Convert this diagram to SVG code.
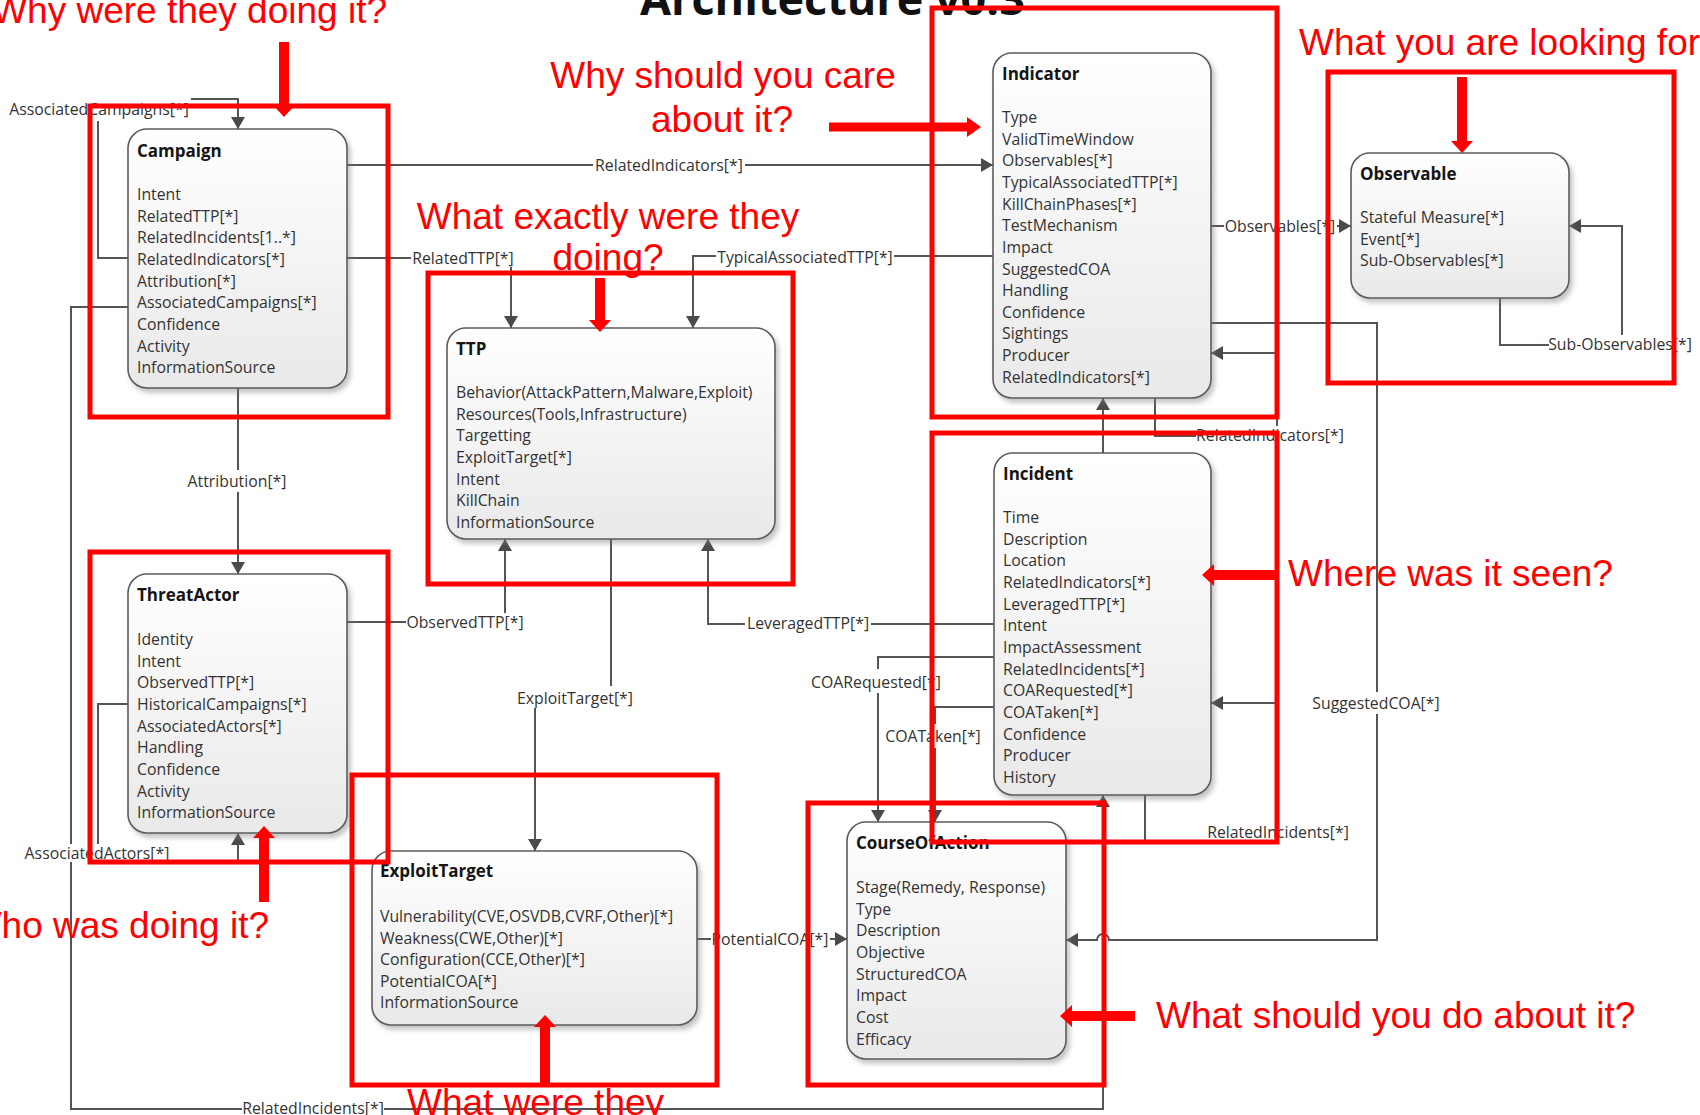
<svg xmlns="http://www.w3.org/2000/svg" width="1700" height="1115" viewBox="0 0 1700 1115">
<defs>
  <linearGradient id="nodeFill" x1="0" y1="0" x2="0" y2="1">
    <stop offset="0" stop-color="#ffffff"/>
    <stop offset="1" stop-color="#e9e9e9"/>
  </linearGradient>
  <filter id="shadow" x="-10%" y="-10%" width="125%" height="125%">
    <feDropShadow dx="3" dy="4" stdDeviation="2.5" flood-color="#7a7a7a" flood-opacity="0.45"/>
  </filter>
  <marker id="arr" viewBox="0 0 12 14" refX="12" refY="7" markerWidth="12" markerHeight="14" markerUnits="userSpaceOnUse" orient="auto">
    <path d="M0,0 L12,7 L0,14 Z" fill="#4a4a4a"/>
  </marker>
  <style>
    .node rect.box { fill: url(#nodeFill); stroke: #5c5c5c; stroke-width: 1.6; filter: url(#shadow); }
    .ttl { font-family: "Open Sans", "Noto Sans", sans-serif; font-weight: bold; font-size: 17px; fill: #151515; }
    .att { font-family: "Open Sans", "Noto Sans", sans-serif; font-size: 15.8px; fill: #333333; }
    .con path { fill: none; stroke: #555555; stroke-width: 2; }
    .con path.a { marker-end: url(#arr); }
    .lbl { font-family: "Open Sans", "Noto Sans", sans-serif; font-size: 15.8px; fill: #333333; text-anchor: middle; }
    .lbg { fill: #ffffff; }
    .rbox { fill: none; stroke: #ff0000; stroke-width: 5; }
    .rarr { fill: #ff0000; }
    .rtxt { font-family: "Liberation Sans", Arial, sans-serif; font-size: 37px; fill: #ff0000; }
    .title { font-family: "Open Sans", "Noto Sans", sans-serif; font-weight: bold; font-size: 45px; fill: #111111; }
  </style>
</defs>
<rect x="0" y="0" width="1700" height="1115" fill="#ffffff"/>

<text class="title" x="640" y="15">Architecture v0.3</text>

<g id="connectors" class="con">
  <path class="a" d="M128,258 H98 V99 H238 V129"/>
  <path class="a" d="M347,165 H993"/>
  <path class="a" d="M347,258 H511 V328"/>
  <path class="a" d="M993,256 H693 V328"/>
  <path class="a" d="M238,388 V574"/>
  <path class="a" d="M128,307 H71 V1109 H1103 V795"/>
  <path class="a" d="M1211,226 H1351"/>
  <path class="a" d="M1500,298 V345 H1622 V226 H1569"/>
  <path class="a" d="M1155,398 V436 H1277 V353 H1211"/>
  <path class="a" d="M1103,453 V398"/>
  <path class="a" d="M1211,323 H1377 V940 H1109 a6,6 0 0 0 -12,0 H1066"/>
  <path class="a" d="M1145,795 V841 H1277 V703 H1211"/>
  <path class="a" d="M994,624 H708 V539"/>
  <path class="a" d="M347,622 H505 V539"/>
  <path class="a" d="M611,539 V698 H535 V851"/>
  <path class="a" d="M697,939 H847"/>
  <path class="a" d="M994,657 H878 V822"/>
  <path class="a" d="M994,707 H935 V822"/>
  <path class="a" d="M128,704 H98 V861 H238 V833"/>

  <g id="connector-labels">
    <rect class="lbg" x="8" y="97" width="183" height="24"/>
    <text class="lbl" x="99" y="114.5">AssociatedCampaigns[*]</text>
    <rect class="lbg" x="593" y="156" width="152" height="18"/>
    <text class="lbl" x="669" y="170.5">RelatedIndicators[*]</text>
    <rect class="lbg" x="411" y="249" width="104" height="18"/>
    <text class="lbl" x="463" y="263.5">RelatedTTP[*]</text>
    <rect class="lbg" x="716" y="248" width="178" height="18"/>
    <text class="lbl" x="805" y="262.5">TypicalAssociatedTTP[*]</text>
    <rect class="lbg" x="185" y="470" width="104" height="22"/>
    <text class="lbl" x="237" y="487">Attribution[*]</text>
    <rect class="lbg" x="242" y="1099" width="142" height="18"/>
    <text class="lbl" x="313" y="1113.5">RelatedIncidents[*]</text>
    <rect class="lbg" x="1224" y="217" width="113" height="18"/>
    <text class="lbl" x="1280" y="231.5">Observables[*]</text>
    <rect class="lbg" x="1549" y="335" width="143" height="18"/>
    <text class="lbl" x="1620" y="349.5">Sub-Observables[*]</text>
    <rect class="lbg" x="1196" y="426" width="148" height="18"/>
    <text class="lbl" x="1270" y="440.5">RelatedIndicators[*]</text>
    <rect class="lbg" x="1311" y="692" width="130" height="22"/>
    <text class="lbl" x="1376" y="708.5">SuggestedCOA[*]</text>
    <rect class="lbg" x="1207" y="823" width="142" height="18"/>
    <text class="lbl" x="1278" y="837.5">RelatedIncidents[*]</text>
    <rect class="lbg" x="745" y="614" width="126" height="18"/>
    <text class="lbl" x="808" y="628.5">LeveragedTTP[*]</text>
    <rect class="lbg" x="406" y="613" width="118" height="18"/>
    <text class="lbl" x="465" y="627.5">ObservedTTP[*]</text>
    <rect class="lbg" x="516" y="686" width="118" height="22"/>
    <text class="lbl" x="575" y="703.5">ExploitTarget[*]</text>
    <rect class="lbg" x="711" y="930" width="119" height="18"/>
    <text class="lbl" x="770" y="944.5">PotentialCOA[*]</text>
    <rect class="lbg" x="811" y="669" width="131" height="24"/>
    <text class="lbl" x="876" y="687.5">COARequested[*]</text>
    <rect class="lbg" x="885" y="724" width="96" height="24"/>
    <text class="lbl" x="933" y="741.5">COATaken[*]</text>
    <rect class="lbg" x="24" y="844" width="147" height="18"/>
    <text class="lbl" x="97" y="858.5">AssociatedActors[*]</text>
  </g>
</g>

<g id="node-campaign" class="node">
  <rect class="box" x="128" y="129" width="219" height="259" rx="19"/>
  <text class="ttl" x="137" y="157">Campaign</text>
  <text class="att" x="137" y="200">
    <tspan x="137">Intent</tspan>
    <tspan x="137" dy="21.65">RelatedTTP[*]</tspan>
    <tspan x="137" dy="21.65">RelatedIncidents[1..*]</tspan>
    <tspan x="137" dy="21.65">RelatedIndicators[*]</tspan>
    <tspan x="137" dy="21.65">Attribution[*]</tspan>
    <tspan x="137" dy="21.65">AssociatedCampaigns[*]</tspan>
    <tspan x="137" dy="21.65">Confidence</tspan>
    <tspan x="137" dy="21.65">Activity</tspan>
    <tspan x="137" dy="21.65">InformationSource</tspan>
  </text>
</g>

<g id="node-ttp" class="node">
  <rect class="box" x="447" y="328" width="328" height="211" rx="19"/>
  <text class="ttl" x="456" y="355">TTP</text>
  <text class="att" x="456" y="398">
    <tspan x="456">Behavior(AttackPattern,Malware,Exploit)</tspan>
    <tspan x="456" dy="21.65">Resources(Tools,Infrastructure)</tspan>
    <tspan x="456" dy="21.65">Targetting</tspan>
    <tspan x="456" dy="21.65">ExploitTarget[*]</tspan>
    <tspan x="456" dy="21.65">Intent</tspan>
    <tspan x="456" dy="21.65">KillChain</tspan>
    <tspan x="456" dy="21.65">InformationSource</tspan>
  </text>
</g>

<g id="node-indicator" class="node">
  <rect class="box" x="993" y="53" width="218" height="345" rx="19"/>
  <text class="ttl" x="1002" y="80">Indicator</text>
  <text class="att" x="1002" y="123">
    <tspan x="1002">Type</tspan>
    <tspan x="1002" dy="21.65">ValidTimeWindow</tspan>
    <tspan x="1002" dy="21.65">Observables[*]</tspan>
    <tspan x="1002" dy="21.65">TypicalAssociatedTTP[*]</tspan>
    <tspan x="1002" dy="21.65">KillChainPhases[*]</tspan>
    <tspan x="1002" dy="21.65">TestMechanism</tspan>
    <tspan x="1002" dy="21.65">Impact</tspan>
    <tspan x="1002" dy="21.65">SuggestedCOA</tspan>
    <tspan x="1002" dy="21.65">Handling</tspan>
    <tspan x="1002" dy="21.65">Confidence</tspan>
    <tspan x="1002" dy="21.65">Sightings</tspan>
    <tspan x="1002" dy="21.65">Producer</tspan>
    <tspan x="1002" dy="21.65">RelatedIndicators[*]</tspan>
  </text>
</g>

<g id="node-observable" class="node">
  <rect class="box" x="1351" y="153" width="218" height="145" rx="19"/>
  <text class="ttl" x="1360" y="180">Observable</text>
  <text class="att" x="1360" y="223">
    <tspan x="1360">Stateful Measure[*]</tspan>
    <tspan x="1360" dy="21.65">Event[*]</tspan>
    <tspan x="1360" dy="21.65">Sub-Observables[*]</tspan>
  </text>
</g>

<g id="node-incident" class="node">
  <rect class="box" x="994" y="453" width="217" height="342" rx="19"/>
  <text class="ttl" x="1003" y="480">Incident</text>
  <text class="att" x="1003" y="523">
    <tspan x="1003">Time</tspan>
    <tspan x="1003" dy="21.65">Description</tspan>
    <tspan x="1003" dy="21.65">Location</tspan>
    <tspan x="1003" dy="21.65">RelatedIndicators[*]</tspan>
    <tspan x="1003" dy="21.65">LeveragedTTP[*]</tspan>
    <tspan x="1003" dy="21.65">Intent</tspan>
    <tspan x="1003" dy="21.65">ImpactAssessment</tspan>
    <tspan x="1003" dy="21.65">RelatedIncidents[*]</tspan>
    <tspan x="1003" dy="21.65">COARequested[*]</tspan>
    <tspan x="1003" dy="21.65">COATaken[*]</tspan>
    <tspan x="1003" dy="21.65">Confidence</tspan>
    <tspan x="1003" dy="21.65">Producer</tspan>
    <tspan x="1003" dy="21.65">History</tspan>
  </text>
</g>

<g id="node-threatactor" class="node">
  <rect class="box" x="128" y="574" width="219" height="259" rx="19"/>
  <text class="ttl" x="137" y="601">ThreatActor</text>
  <text class="att" x="137" y="645">
    <tspan x="137">Identity</tspan>
    <tspan x="137" dy="21.65">Intent</tspan>
    <tspan x="137" dy="21.65">ObservedTTP[*]</tspan>
    <tspan x="137" dy="21.65">HistoricalCampaigns[*]</tspan>
    <tspan x="137" dy="21.65">AssociatedActors[*]</tspan>
    <tspan x="137" dy="21.65">Handling</tspan>
    <tspan x="137" dy="21.65">Confidence</tspan>
    <tspan x="137" dy="21.65">Activity</tspan>
    <tspan x="137" dy="21.65">InformationSource</tspan>
  </text>
</g>

<g id="node-exploittarget" class="node">
  <rect class="box" x="372" y="851" width="325" height="174" rx="19"/>
  <text class="ttl" x="380" y="877">ExploitTarget</text>
  <text class="att" x="380" y="922">
    <tspan x="380">Vulnerability(CVE,OSVDB,CVRF,Other)[*]</tspan>
    <tspan x="380" dy="21.5">Weakness(CWE,Other)[*]</tspan>
    <tspan x="380" dy="21.5">Configuration(CCE,Other)[*]</tspan>
    <tspan x="380" dy="21.5">PotentialCOA[*]</tspan>
    <tspan x="380" dy="21.5">InformationSource</tspan>
  </text>
</g>

<g id="node-courseofaction" class="node">
  <rect class="box" x="847" y="822" width="219" height="237" rx="19"/>
  <text class="ttl" x="856" y="849">CourseOfAction</text>
  <text class="att" x="856" y="893">
    <tspan x="856">Stage(Remedy, Response)</tspan>
    <tspan x="856" dy="21.65">Type</tspan>
    <tspan x="856" dy="21.65">Description</tspan>
    <tspan x="856" dy="21.65">Objective</tspan>
    <tspan x="856" dy="21.65">StructuredCOA</tspan>
    <tspan x="856" dy="21.65">Impact</tspan>
    <tspan x="856" dy="21.65">Cost</tspan>
    <tspan x="856" dy="21.65">Efficacy</tspan>
  </text>
</g>

<g id="annotations">
  <rect class="rbox" x="90" y="106" width="298" height="311"/>
  <rect class="rbox" x="428" y="273" width="365" height="311"/>
  <rect class="rbox" x="932" y="8" width="345" height="409"/>
  <rect class="rbox" x="1328" y="72" width="346" height="311"/>
  <rect class="rbox" x="932" y="433" width="345" height="409"/>
  <rect class="rbox" x="90" y="552" width="298" height="310"/>
  <rect class="rbox" x="352" y="775" width="365" height="310"/>
  <rect class="rbox" x="808" y="803" width="296" height="282"/>

  <path class="rarr" d="M279,42 H289 V105 H295 L284,117 L273,105 H279 Z"/>
  <path class="rarr" d="M829,122.5 H967 V117 L981,127 L967,137 V131.5 H829 Z"/>
  <path class="rarr" d="M595,278 H605 V320 H611 L600,332 L589,320 H595 Z"/>
  <path class="rarr" d="M1457,77 H1467 V141 H1473 L1462,153 L1451,141 H1457 Z"/>
  <path class="rarr" d="M1277,570 H1214 V564 L1202,575 L1214,586 V580 H1277 Z"/>
  <path class="rarr" d="M1135,1011 H1072 V1005 L1060,1016 L1072,1027 V1021 H1135 Z"/>
  <path class="rarr" d="M259,902 V838 H253 L264,826 L275,838 H269 V902 Z"/>
  <path class="rarr" d="M540,1085 V1027 H534 L545,1015 L556,1027 H550 V1085 Z"/>

  <text class="rtxt" x="387" y="23" text-anchor="end">Why were they doing it?</text>
  <text class="rtxt" x="723" y="88" text-anchor="middle">Why should you care</text>
  <text class="rtxt" x="722" y="132" text-anchor="middle">about it?</text>
  <text class="rtxt" x="608" y="229" text-anchor="middle">What exactly were they</text>
  <text class="rtxt" x="608" y="270" text-anchor="middle">doing?</text>
  <text class="rtxt" x="1299" y="55">What you are looking for</text>
  <text class="rtxt" x="1288" y="586">Where was it seen?</text>
  <text class="rtxt" x="1156" y="1028">What should you do about it?</text>
  <text class="rtxt" x="269" y="938" text-anchor="end">Who was doing it?</text>
  <text class="rtxt" x="407" y="1115">What were they</text>
</g>
</svg>
